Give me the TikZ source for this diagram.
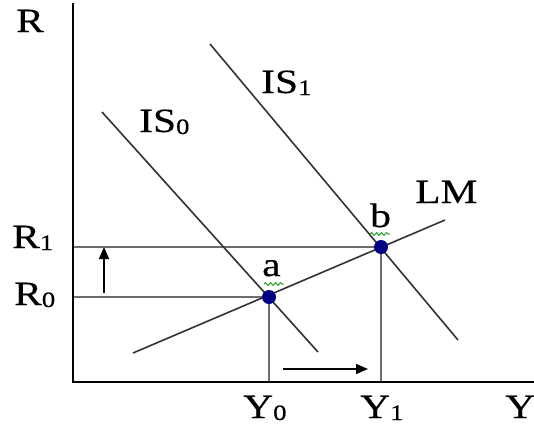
\documentclass[tikz,border=0pt]{standalone}
\usepackage{fontspec}
\setmainfont{Liberation Serif}
\newfontfamily\lab[FakeStretch=1.22,FakeBold=0.4]{Liberation Serif}
\usetikzlibrary{arrows.meta,decorations.pathmorphing}
\newcommand{\sbs}[1]{{\fontsize{22}{22}\selectfont\raisebox{-2pt}{#1}}}
\definecolor{curve}{HTML}{333333}
\definecolor{guide}{HTML}{6E6E6E}
\definecolor{dotblue}{HTML}{000080}
\definecolor{squig}{HTML}{2CA02C}
\begin{document}
\begin{tikzpicture}[x=1pt,y=-1pt,
  lbl/.style={anchor=base west,inner sep=0pt,font=\lab\fontsize{34}{34}\selectfont},
  axis/.style={line width=2pt,black},
  curveline/.style={line width=1.6pt,curve},
  guideline/.style={line width=1.3pt,guide},
  shift arrow/.style={line width=1.5pt,black,-{Triangle[length=12pt,width=10pt]}},
  dot/.style={circle,fill=dotblue,inner sep=0pt,minimum size=14pt},
  wavy/.style={squig,line width=1pt,decorate,decoration={snake,amplitude=1.4pt,segment length=5pt}}]
\useasboundingbox[fill=white] (0,0) rectangle (534,431);
% key points
\coordinate (pa) at (269,297);
\coordinate (pb) at (381,247);
\coordinate (O) at (73,382);
\coordinate (ytop) at (73,3);
\coordinate (xend) at (534,382);
\coordinate (r0line) at (73,297);
\coordinate (r1line) at (73,247);
\coordinate (y0foot) at (269,382);
\coordinate (y1foot) at (381,382);
% guides
\draw[guideline] (r1line) -- (pb);
\draw[guideline] (r0line) -- (pa);
\draw[guideline] (pa) -- (y0foot);
\draw[guideline] (pb) -- (y1foot);
% curves
\coordinate (is0a) at (102,112);
\coordinate (is0b) at (318,352);
\coordinate (is1a) at (210,44);
\coordinate (is1b) at (458,340);
\coordinate (lma) at (133,353);
\coordinate (lmb) at (445,220);
\draw[curveline] (is0a) -- (is0b);
\draw[curveline] (is1a) -- (is1b);
\draw[curveline] (lma) -- (lmb);
% axes
\draw[axis] (ytop) -- (O) -- (xend);
% shift arrows
\coordinate (u0) at (104,293);
\coordinate (u1) at (104,247);
\coordinate (h0) at (283,369);
\coordinate (h1) at (368,369);
\draw[shift arrow] (u0) -- (u1);
\draw[shift arrow] (h0) -- (h1);
% dots
\node[dot] (a) at (pa) {};
\node[dot] (b) at (pb) {};
% squiggles
\coordinate (sqa0) at (264,284);
\coordinate (sqa1) at (284,284);
\coordinate (sqb0) at (370,234);
\coordinate (sqb1) at (390,234);
\draw[wavy] (sqa0) -- (sqa1);
\draw[wavy] (sqb0) -- (sqb1);
% labels
\node[lbl] (lR) at (16,32) {R};
\node[lbl] (lR1) at (12,248) {R\sbs{1}};
\node[lbl] (lR0) at (14,305) {R\sbs{0}};
\node[lbl] (lIS0) at (139,132) {IS\sbs{0}};
\node[lbl] (lIS1) at (261,93) {IS\sbs{1}};
\node[lbl] (lLM) at (415,203) {LM};
\node[lbl] (la) at (262,276) {a};
\node[lbl] (lb) at (370,227) {b};
\node[lbl] (lY0) at (243,418) {Y\sbs{0}};
\node[lbl] (lY1) at (360,418) {Y\sbs{1}};
\node[lbl] (lY) at (505,418) {Y};
\end{tikzpicture}
\end{document}
